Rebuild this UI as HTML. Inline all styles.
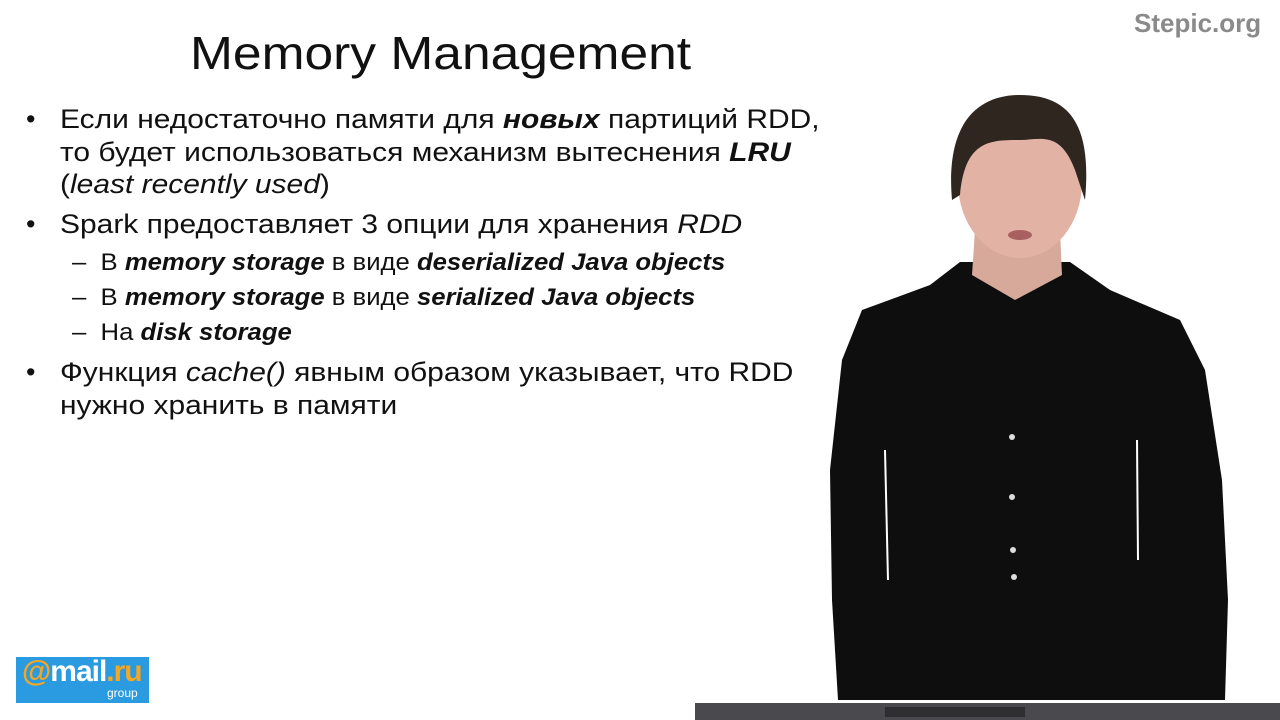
<!DOCTYPE html>
<html><head><meta charset="utf-8"><style>
body{margin:0;width:1280px;height:720px;background:#fff;position:relative;overflow:hidden;font-family:"Liberation Sans",sans-serif;color:#111}
.t{position:absolute;white-space:nowrap}
h1{position:absolute;left:190px;top:26px;margin:0;font-weight:normal;font-size:46px;white-space:nowrap;transform:scaleX(1.12);transform-origin:0 0}
.l{font-size:27px;position:absolute;white-space:nowrap;transform:scaleX(1.11);transform-origin:0 0}
.s{font-size:24px;position:absolute;white-space:nowrap;transform:scaleX(1.07);transform-origin:0 0}
.b{font-size:27px;position:absolute}
</style></head><body>
<h1>Memory Management</h1>
<div class="t" style="left:1134px;top:8px;font-size:26px;font-weight:bold;color:#8a8a8a">Stepic.org</div>

<div class="b" style="left:26px;top:104px">•</div>
<div class="l" style="left:60px;top:104px">Если недостаточно памяти для <b><i>новых</i></b> партиций RDD,</div>
<div class="l" style="left:60px;top:137px">то будет использоваться механизм вытеснения <b><i>LRU</i></b></div>
<div class="l" style="left:60px;top:169px">(<i>least recently used</i>)</div>
<div class="b" style="left:26px;top:209px">•</div>
<div class="l" style="left:60px;top:209px">Spark предоставляет 3 опции для хранения <i>RDD</i></div>
<div class="s" style="left:72px;top:249px">–&nbsp; В <b><i>memory storage</i></b> в виде <b><i>deserialized Java objects</i></b></div>
<div class="s" style="left:72px;top:284px">–&nbsp; В <b><i>memory storage</i></b> в виде <b><i>serialized Java objects</i></b></div>
<div class="s" style="left:72px;top:319px">–&nbsp; На <b><i>disk storage</i></b></div>
<div class="b" style="left:26px;top:357px">•</div>
<div class="l" style="left:60px;top:357px">Функция <i>cache()</i> явным образом указывает, что RDD</div>
<div class="l" style="left:60px;top:390px">нужно хранить в памяти</div>

<svg style="position:absolute;left:0;top:0" width="1280" height="720">
<path d="M960,262 L1070,262 L1110,290 L1180,320 L1205,370 L1222,480 L1228,600 L1225,700 L838,700 L832,600 L830,470 L842,360 L862,310 L930,285 Z" fill="#0e0e0e"/>
<path d="M975,230 L1060,230 L1062,275 L1015,300 L972,275 Z" fill="#d7a99a"/>
<ellipse cx="1020" cy="182" rx="62" ry="76" fill="#e2b3a4"/>
<path d="M952,200 C945,120 980,95 1020,95 C1070,95 1092,125 1085,200 L1075,170 C1060,130 1040,140 1020,140 C990,140 965,140 960,195 Z" fill="#2f2620"/>
<ellipse cx="1020" cy="235" rx="12" ry="5" fill="#a86060"/>
<line x1="885" y1="450" x2="888" y2="580" stroke="#fff" stroke-width="2"/>
<line x1="1137" y1="440" x2="1138" y2="560" stroke="#fff" stroke-width="2"/>
<circle cx="1012" cy="437" r="3" fill="#ddd"/><circle cx="1012" cy="497" r="3" fill="#ddd"/><circle cx="1013" cy="550" r="3" fill="#ddd"/><circle cx="1014" cy="577" r="3" fill="#ddd"/>
<rect x="695" y="703" width="585" height="17" fill="#4a4a4e"/>
<rect x="885" y="707" width="140" height="10" fill="#2e2e30"/>
</svg>

<div style="position:absolute;left:16px;top:657px;width:133px;height:46px;background:#2a9be0"></div>
<div class="t" style="left:22px;top:655px;font-size:30px;font-weight:bold;color:#fff;letter-spacing:-1px"><span style="color:#f5a623">@</span>mail<span style="color:#f5a623">.ru</span></div>
<div class="t" style="left:107px;top:686px;font-size:12px;color:#fff">group</div>
</body></html>
